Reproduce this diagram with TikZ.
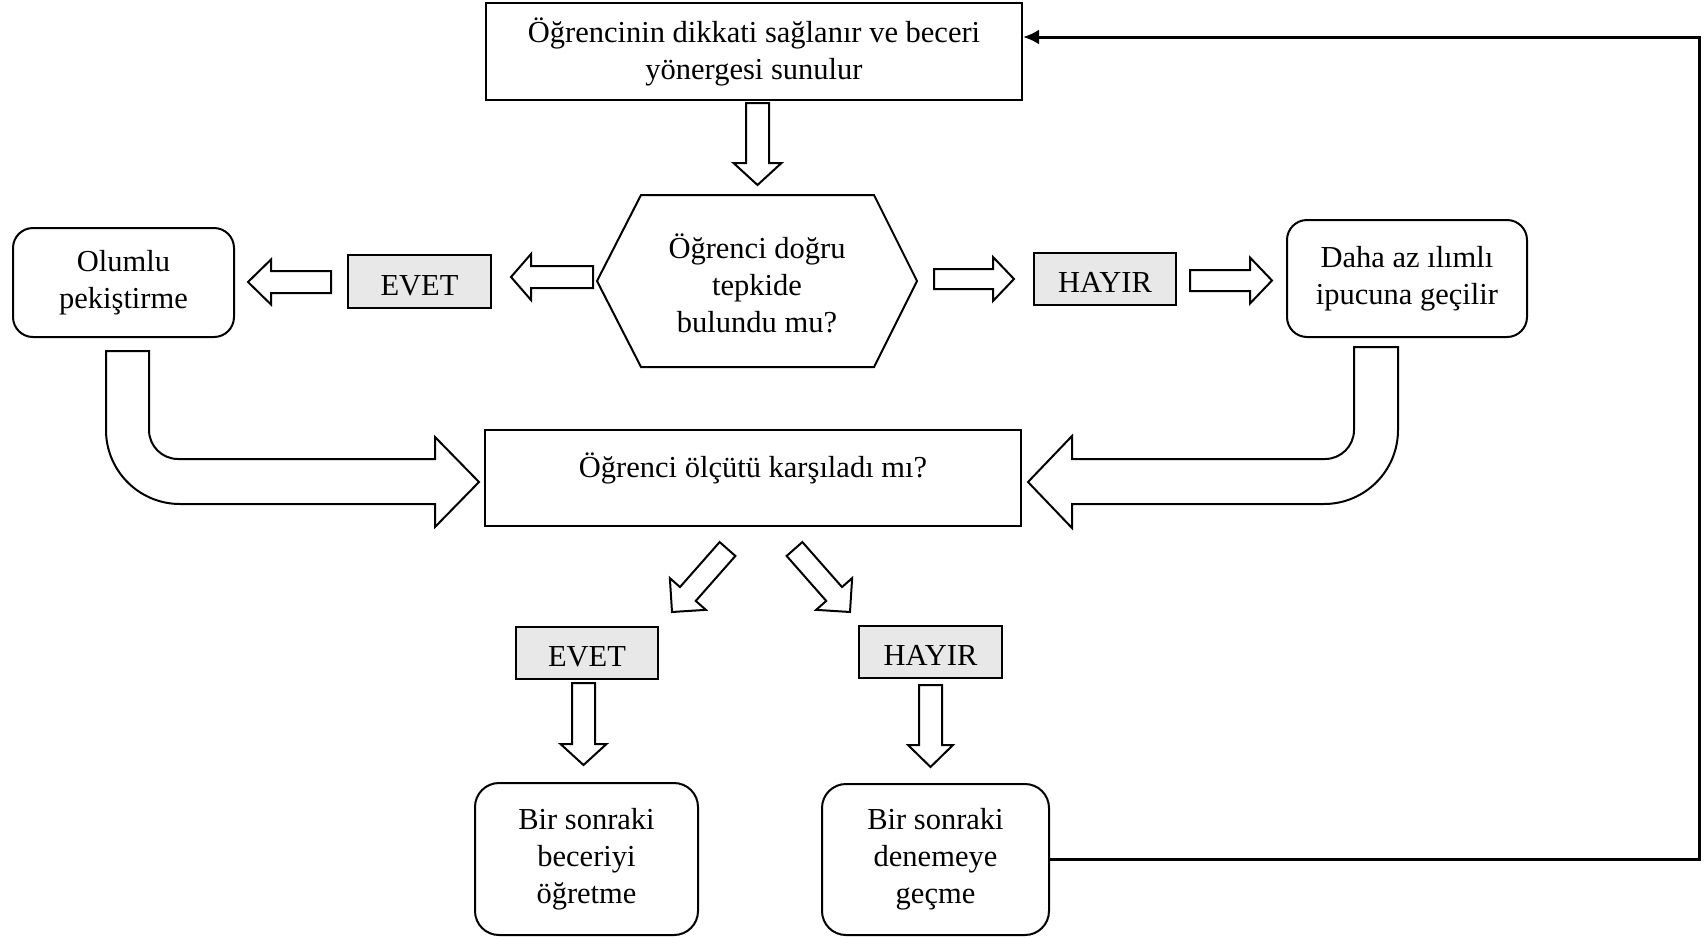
\documentclass[tikz,border=0pt]{standalone}
\usepackage{fontspec}
\setmainfont{Liberation Serif}
\usetikzlibrary{calc,arrows.meta}
\newcommand{\myfs}{\fontsize{30.5}{37}\selectfont}
\definecolor{lblgray}{RGB}{232,232,232}
\tikzset{
  base/.style={draw, line width=2pt, font=\myfs, align=center, inner sep=0pt},
  rectbox/.style={base},
  rbox/.style={base, rounded corners=20pt},
  lblbox/.style={base, fill=lblgray, minimum width=142pt, minimum height=52pt, text height=27pt, text depth=0pt},
  blk/.style={draw, line width=2pt, fill=white, line join=miter},
  fb/.style={line width=3pt, -{Latex[length=16pt,width=15pt]}},
  ba/.style={shift={(\p1)}, rotate=\n1}
}
\newcommand{\barrow}[5]{%
  \path #1 coordinate (bas) #2 coordinate (bae);
  \draw[blk] let \p1=(bas), \p2=(bae), \n1={atan2(\y2-\y1,\x2-\x1)}, \n2={veclen(\x2-\x1,\y2-\y1)} in
    ([ba]0,-#3/2) -- ([ba]\n2-#5,-#3/2) -- ([ba]\n2-#5,-#4/2) -- ([ba]\n2,0)
    -- ([ba]\n2-#5,#4/2) -- ([ba]\n2-#5,#3/2) -- ([ba]0,#3/2) -- cycle;
}
\begin{document}
\begin{tikzpicture}[x=1pt,y=-1pt]
\useasboundingbox (0,0) rectangle (1706,938);

% nodes
\node[rectbox, minimum width=536pt, minimum height=97pt] (top) at (754,51.5)
  {Öğrencinin dikkati sağlanır ve beceri\\yönergesi sunulur};
\node[font=\myfs, align=center, inner sep=0pt] (hex) at (757,283)
  {Öğrenci doğru\\tepkide\\bulundu mu?};
\draw[line width=2pt, line join=miter] (641,195) -- (874,195) -- (917,281) -- (874,367) -- (641,367) -- (597,281) -- cycle;

\node[lblbox, minimum width=143pt, minimum height=53pt] (evet1) at (419.5,281.5) {EVET};
\node[rbox, minimum width=221pt, minimum height=109pt] (olumlu) at (123.5,282.5) {Olumlu\\pekiştirme};
\node[lblbox] (hayir1) at (1105,279) {HAYIR};
\node[rbox, minimum width=240pt, minimum height=117pt] (daha) at (1407,278.5) {Daha az ılımlı\\ipucuna geçilir};

\node[rectbox, minimum width=536pt, minimum height=96pt, text height=20pt, text depth=22pt] (mid) at (753,478)
  {Öğrenci ölçütü karşıladı mı?};

\node[lblbox] (evet2) at (587,653) {EVET};
\node[lblbox, minimum width=143pt] (hayir2) at (930.5,652) {HAYIR};

\node[rbox, rounded corners=24pt, minimum width=223pt, minimum height=152pt] (b1) at (586.5,859)
  {Bir sonraki\\beceriyi\\öğretme};
\node[rbox, rounded corners=24pt, minimum width=227pt, minimum height=151pt] (b2) at (935.5,859.5)
  {Bir sonraki\\denemeye\\geçme};

% block arrows
\barrow{(757.5,103)}{(757.5,185)}{23}{48}{22}
\barrow{(593,277)}{(511,277)}{22}{46}{20}
\barrow{(331,282)}{(248,282)}{22}{45}{23}
\barrow{(934,279)}{(1014,279)}{20}{44}{21}
\barrow{(1190,280.5)}{(1272,280.5)}{21}{46}{22}
\barrow{(727.5,549)}{(672,612)}{21}{48}{24}
\barrow{(794.5,549)}{(850,612)}{21}{48}{24}
\barrow{(583.5,683)}{(583.5,765)}{23}{46}{21}
\barrow{(930.5,685)}{(930.5,767)}{23}{45}{22}

% curved block arrows
\draw[blk] (106,351) -- (106,430) arc[start angle=180, end angle=90, radius=74]
  -- (435,504) -- (435,527) -- (479,482) -- (435,437) -- (435,459) -- (178,459)
  arc[start angle=90, end angle=180, radius=29] -- (149,351) -- cycle;
\draw[blk] (1398,347) -- (1398,430) arc[start angle=0, end angle=90, radius=74]
  -- (1072,504) -- (1072,528) -- (1028,482) -- (1072,436) -- (1072,459) -- (1325,459)
  arc[start angle=90, end angle=0, radius=29] -- (1354,347) -- cycle;

% feedback line
\coordinate (fbx) at (1699,0);
\draw[fb] (b2.east) -- (b2.east -| fbx) |- ([yshift=14.5pt]top.east);
\end{tikzpicture}
\end{document}
